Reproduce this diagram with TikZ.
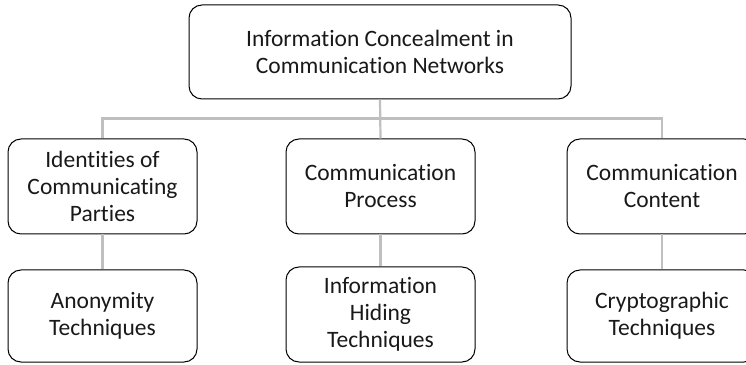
\documentclass[tikz,border=0pt]{standalone}
\usepackage{fontspec}
\setmainfont{Carlito}[Ligatures=NoCommon]
\usepackage{tikz}

\begin{document}
\begin{tikzpicture}[x=1pt, y=1pt,
  box/.style={draw=black, line width=1pt, rounded corners=13pt, fill=white,
    inner sep=0pt, align=center, text=black!90,
    font=\fontsize{23.5}{27}\selectfont},
  link/.style={draw=black!25, line width=2.2pt}]

% frame
\useasboundingbox (0,0) rectangle (746,364);

% top
\node[box, minimum width=382, minimum height=94] (root) at (380,312)
  {Information Concealment in\\Communication Networks};

% middle row
\node[box, minimum width=189, minimum height=95] (ident) at (102.5,177.5)
  {Identities of\\Communicating\\Parties};
\node[box, minimum width=189, minimum height=95] (process) at (380.5,177.5)
  {Communication\\Process};
\node[box, minimum width=190, minimum height=95] (content) at (662,177.5)
  {Communication\\Content};

% bottom row
\node[box, minimum width=189, minimum height=92] (anon) at (102.5,48)
  {Anonymity\\Techniques};
\node[box, minimum width=189, minimum height=95] (hiding) at (380.5,49.5)
  {Information\\Hiding\\Techniques};
\node[box, minimum width=190, minimum height=92] (crypto) at (662,48)
  {Cryptographic\\Techniques};

% links
\draw[link] (root.south) -- (process.north);
\draw[link] (ident.north) -- ++(0,20) -| (content.north);
\draw[link] (ident) -- (anon);
\draw[link] (process) -- (hiding);
\draw[link] (content) -- (crypto);

\end{tikzpicture}
\end{document}
